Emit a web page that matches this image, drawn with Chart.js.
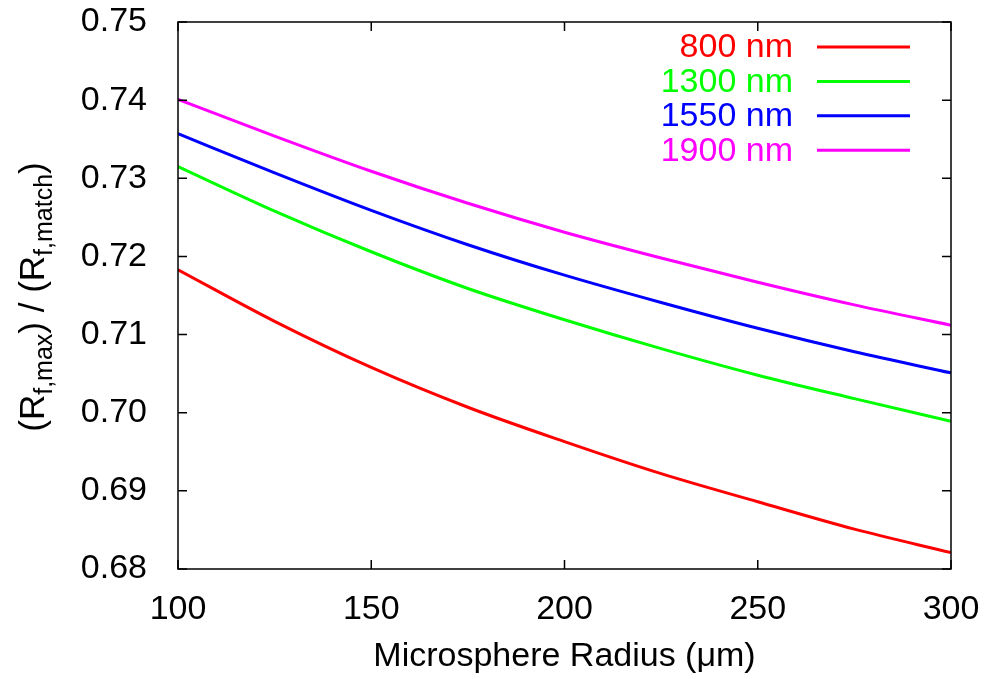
<!DOCTYPE html>
<html>
<head>
<meta charset="utf-8">
<script src="https://cdn.jsdelivr.net/npm/chart.js@4/dist/chart.umd.min.js"></script>
<style>
  html, body { margin: 0; padding: 0; background: #fff; }
  #wrap { width: 987px; height: 679px; }
</style>
</head>
<body>
<div id="wrap"><canvas id="chart"></canvas></div>
<script>
// microsphere radius (um)
const radius = [100, 125, 150, 175, 200, 225, 250, 275, 300];

// ratio Rf,max / Rf,match per wavelength
const ratio800  = [0.7183, 0.7117, 0.7058, 0.7007, 0.6963, 0.6922, 0.6886, 0.6851, 0.6821];
const ratio1300 = [0.7315, 0.7258, 0.7206, 0.7159, 0.7119, 0.7082, 0.7048, 0.7018, 0.6989];
const ratio1550 = [0.7357, 0.7307, 0.7259, 0.7215, 0.7176, 0.7141, 0.7108, 0.7078, 0.7051];
const ratio1900 = [0.7401, 0.7354, 0.7309, 0.7268, 0.7231, 0.7198, 0.7167, 0.7138, 0.7112];

const labels = ['800 nm', '1300 nm', '1550 nm', '1900 nm'];
const colors = ['#ff0000', '#00ff00', '#0000ff', '#ff00ff'];

const FONT = '"Liberation Sans", Arial, Helvetica, sans-serif';

function series (vals) {
  return radius.map((r, i) => ({ x: r, y: vals[i] }));
}

// frame + inward ticks on all four sides
const frameTicks = {
  id: 'frameTicks',
  afterDraw (chart) {
    const { ctx, chartArea: a, scales } = chart;
    const len = 9;
    ctx.save();
    ctx.strokeStyle = '#000';
    ctx.lineWidth = 1.5;
    scales.x.ticks.forEach(t => {
      const px = scales.x.getPixelForValue(t.value);
      ctx.beginPath();
      ctx.moveTo(px, a.bottom); ctx.lineTo(px, a.bottom - len);
      ctx.moveTo(px, a.top); ctx.lineTo(px, a.top + len);
      ctx.stroke();
    });
    scales.y.ticks.forEach(t => {
      const py = scales.y.getPixelForValue(t.value);
      ctx.beginPath();
      ctx.moveTo(a.left, py); ctx.lineTo(a.left + len, py);
      ctx.moveTo(a.right, py); ctx.lineTo(a.right - len, py);
      ctx.stroke();
    });
    ctx.strokeRect(a.left, a.top, a.right - a.left, a.bottom - a.top);
    ctx.restore();
  }
};

// legend inside the plot, text right-aligned before the line sample
const insideLegend = {
  id: 'insideLegend',
  afterDatasetsDraw (chart) {
    const ctx = chart.ctx;
    ctx.save();
    ctx.font = '34px ' + FONT;
    ctx.textAlign = 'right';
    ctx.textBaseline = 'middle';
    chart.data.datasets.forEach((ds, i) => {
      const y = 47 + i * 34.4;
      ctx.fillStyle = ds.borderColor;
      ctx.fillText(ds.label, 793, y + 1);
      ctx.strokeStyle = ds.borderColor;
      ctx.lineWidth = 3;
      ctx.beginPath();
      ctx.moveTo(817, y); ctx.lineTo(910, y);
      ctx.stroke();
    });
    ctx.restore();
  }
};

// y axis title with subscripts
const yTitle = {
  id: 'yTitle',
  afterDraw (chart) {
    const ctx = chart.ctx;
    const parts = [
      ['(R', 35, 0], ['f,max', 25, 8], [') / (R', 35, 0], ['f,match', 25, 8], [')', 35, 0]
    ];
    ctx.save();
    ctx.fillStyle = '#000';
    ctx.textBaseline = 'alphabetic';
    ctx.textAlign = 'left';
    let total = 0;
    parts.forEach(p => { ctx.font = p[1] + 'px ' + FONT; total += ctx.measureText(p[0]).width; });
    ctx.translate(44, 297);
    ctx.rotate(-Math.PI / 2);
    let x = -total / 2;
    parts.forEach(p => {
      ctx.font = p[1] + 'px ' + FONT;
      ctx.fillText(p[0], x, p[2]);
      x += ctx.measureText(p[0]).width;
    });
    ctx.restore();
  }
};

new Chart(document.getElementById('chart'), {
  type: 'line',
  data: {
    datasets: [ratio800, ratio1300, ratio1550, ratio1900].map((vals, i) => ({
      label: labels[i],
      data: series(vals),
      borderColor: colors[i],
      backgroundColor: colors[i],
      borderWidth: 3,
      pointRadius: 0,
      fill: false,
      cubicInterpolationMode: 'monotone'
    }))
  },
  options: {
    responsive: true,
    maintainAspectRatio: false,
    animation: false,
    layout: { padding: { top: 22, right: 36, bottom: 0, left: 0 } },
    plugins: {
      legend: { display: false },
      tooltip: { enabled: false }
    },
    scales: {
      x: {
        type: 'linear',
        min: 100,
        max: 300,
        grid: { display: false },
        border: { display: false },
        ticks: { stepSize: 50, padding: 12, color: '#000', font: { family: FONT, size: 34 } },
        title: {
          display: true,
          text: 'Microsphere Radius (\u03bcm)',
          color: '#000',
          font: { family: FONT, size: 34 },
          padding: { top: 0, bottom: 2 }
        },
        afterFit (s) {
          s.height = 110;
          s.paddingLeft = 0;
          s.paddingRight = 0;
        }
      },
      y: {
        min: 0.68,
        max: 0.75,
        grid: { display: false },
        border: { display: false },
        ticks: {
          stepSize: 0.01,
          padding: 23,
          color: '#000',
          font: { family: FONT, size: 34 },
          callback: v => v.toFixed(2)
        },
        afterFit (s) {
          s.width = 178;
          s.paddingTop = 0;
          s.paddingBottom = 0;
        }
      }
    }
  },
  plugins: [frameTicks, insideLegend, yTitle]
});
</script>
</body>
</html>
